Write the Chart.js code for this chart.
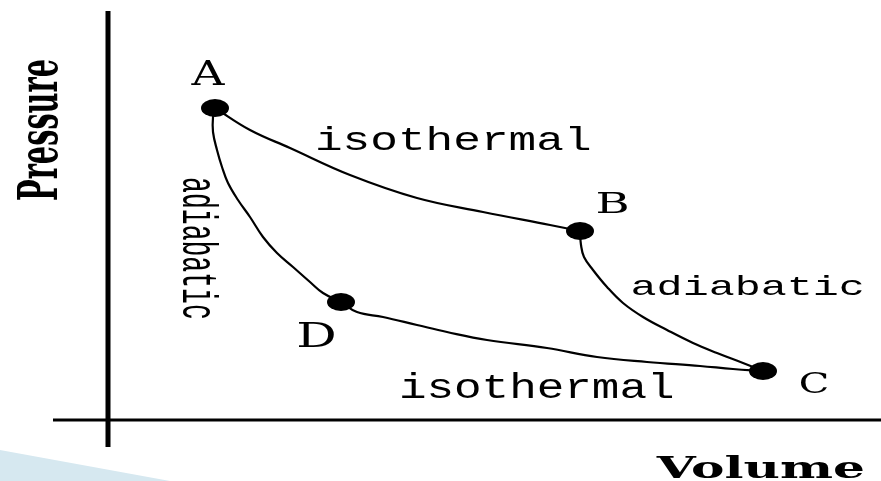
<!DOCTYPE html>
<html>
<head>
<meta charset="utf-8">
<script src="https://cdn.jsdelivr.net/npm/chart.js@4.4.1/dist/chart.umd.min.js"></script>
<style>
  html, body { margin: 0; padding: 0; background: #fff; }
  #wrap { width: 881px; height: 481px; }
</style>
</head>
<body>
<div id="wrap"><canvas id="cycle" width="881" height="481"></canvas></div>
<script>
// 卡諾循環 P-V 圖 (volume / pressure in arbitrary units, origin at the axes crossing)
const pointNames = ['A', 'B', 'C', 'D'];
const pointV = [1.07, 4.72, 6.55, 2.33];
const pointP = [3.12, 1.89, 0.49, 1.18];

// A -> B isothermal
const abV = [1.07, 1.42, 1.82, 2.42, 3.09, 3.75, 4.42, 4.72];
const abP = [3.12, 2.90, 2.72, 2.45, 2.22, 2.08, 1.95, 1.89];
// B -> C adiabatic
const bcV = [4.72, 4.73, 4.76, 4.85, 4.99, 5.15, 5.35, 5.59, 5.85, 6.09, 6.35, 6.55];
const bcP = [1.89, 1.75, 1.63, 1.50, 1.33, 1.17, 1.03, 0.90, 0.77, 0.67, 0.57, 0.49];
// D -> C isothermal
const dcV = [2.33, 2.49, 2.75, 3.09, 3.39, 3.79, 4.39, 4.89, 5.39, 5.92, 6.25, 6.55];
const dcP = [1.18, 1.08, 1.03, 0.95, 0.88, 0.80, 0.72, 0.63, 0.58, 0.54, 0.51, 0.49];
// A -> D adiabatic
const adV = [1.07, 1.05, 1.05, 1.09, 1.14, 1.20, 1.30, 1.42, 1.55, 1.69, 1.85, 2.02, 2.15, 2.33];
const adP = [3.12, 3.03, 2.88, 2.70, 2.53, 2.37, 2.20, 2.03, 1.83, 1.67, 1.53, 1.38, 1.27, 1.18];

// axis lines
const axisYV = [0, 0];
const axisYP = [4.09, -0.27];
const axisXV = [-0.55, 7.73];
const axisXP = [0, 0];

// light blue corner band
const bandV = [-1.08, 0.62];
const bandP = [-0.30, -0.61];

const axisTitles = ['Volume', 'Pressure'];
const processNames = ['isothermal', 'adiabatic', 'isothermal', 'adiabatic'];

function pairs(xs, ys) {
    return xs.map(function (x, i) { return { x: x, y: ys[i] }; });
}

// filled ellipse used as the state marker
const dot = document.createElement('canvas');
dot.width = 30;
dot.height = 20;
const dctx = dot.getContext('2d');
dctx.fillStyle = '#000';
dctx.beginPath();
dctx.ellipse(15, 10, 14, 9, 0, 0, Math.PI * 2);
dctx.fill();

// draw text so that its ink fits a box: left edge, baseline, ink width, ink ascent
function fitText(ctx, text, font, x, y, w, a, angle) {
    ctx.save();
    ctx.font = font;
    const m = ctx.measureText(text);
    const inkW = m.actualBoundingBoxLeft + m.actualBoundingBoxRight;
    const inkA = m.actualBoundingBoxAscent;
    ctx.translate(x, y);
    ctx.rotate(angle || 0);
    ctx.scale(w / inkW, a / inkA);
    ctx.fillStyle = '#000';
    ctx.textBaseline = 'alphabetic';
    ctx.fillText(text, m.actualBoundingBoxLeft, 0);
    ctx.restore();
}

const mono = '30px "Liberation Mono"';
const letter = '30px "DejaVu Serif"';
const heavy = 'bold 30px "DejaVu Serif"';

const labelPlugin = {
    id: 'labels',
    afterDatasetsDraw(chart) {
        const ctx = chart.ctx;
        // state letters
        fitText(ctx, pointNames[0], letter, 190, 85, 35, 25);
        fitText(ctx, pointNames[1], letter, 597, 213, 31, 21);
        fitText(ctx, pointNames[2], letter, 800, 393, 28, 21);
        fitText(ctx, pointNames[3], letter, 298, 347, 37, 25);
        // process names
        fitText(ctx, processNames[0], mono, 318, 150, 272, 25);
        fitText(ctx, processNames[1], mono, 632, 295, 230, 20);
        fitText(ctx, processNames[2], mono, 402, 398, 271, 26);
        fitText(ctx, processNames[3], mono, 183, 178, 140, 37, Math.PI / 2);
        // axis titles
        fitText(ctx, axisTitles[0], heavy, 655, 478, 208, 23);
        fitText(ctx, axisTitles[1], heavy, 57, 200, 140, 40, -Math.PI / 2);
    }
};

const curve = {
    showLine: true,
    borderColor: '#000',
    borderWidth: 2.2,
    pointRadius: 0,
    tension: 0.4,
    fill: false
};

new Chart(document.getElementById('cycle'), {
    type: 'scatter',
    data: {
        datasets: [
            {
                data: pairs(bandV, bandP),
                showLine: true,
                borderWidth: 0,
                borderColor: 'rgba(0,0,0,0)',
                backgroundColor: 'rgb(214, 232, 240)',
                pointRadius: 0,
                fill: 'start'
            },
            { data: pairs(axisYV, axisYP), showLine: true, borderColor: '#000', borderWidth: 5, pointRadius: 0, borderCapStyle: 'butt' },
            { data: pairs(axisXV, axisXP), showLine: true, borderColor: '#000', borderWidth: 3, pointRadius: 0, borderCapStyle: 'butt' },
            Object.assign({ data: pairs(abV, abP) }, curve),
            Object.assign({ data: pairs(bcV, bcP) }, curve),
            Object.assign({ data: pairs(dcV, dcP) }, curve),
            Object.assign({ data: pairs(adV, adP) }, curve),
            {
                data: pairs(pointV, pointP),
                showLine: false,
                pointStyle: dot,
                pointRadius: 10,
                backgroundColor: '#000',
                borderColor: '#000'
            }
        ]
    },
    options: {
        responsive: false,
        animation: false,
        events: [],
        layout: { padding: 0, autoPadding: false },
        plugins: {
            legend: { display: false },
            tooltip: { enabled: false }
        },
        scales: {
            x: { type: 'linear', display: false, min: -1.08, max: 7.73 },
            y: { type: 'linear', display: false, min: -0.61, max: 4.20 }
        }
    },
    plugins: [labelPlugin]
});
</script>
</body>
</html>
